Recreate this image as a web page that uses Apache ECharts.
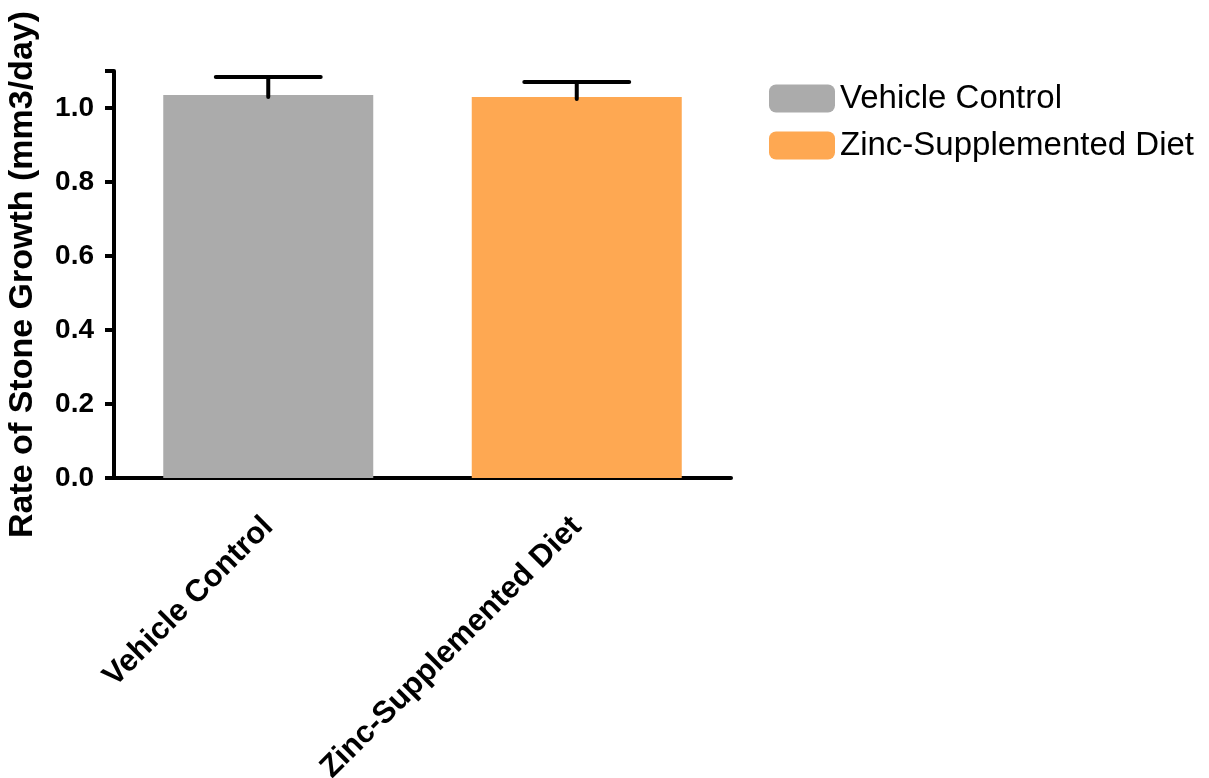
<!DOCTYPE html>
<html>
<head>
<meta charset="utf-8">
<title>Rate of Stone Growth</title>
<script src="https://cdn.jsdelivr.net/npm/echarts@6/dist/echarts.min.js"></script>
<style>
  html, body { margin: 0; padding: 0; background: #ffffff; }
  #chart { width: 1209px; height: 778px; }
</style>
</head>
<body>
<div id="chart"></div>
<script>
// Group names, mean growth rates and their upper error (SEM)
const groups = ['Vehicle Control', 'Zinc-Supplemented Diet'];
const means = [1.035, 1.030];
const errors = [0.049, 0.040];
const groupColors = ['#ABABAB', '#FEA852'];
const yTicks = [0, 0.2, 0.4, 0.6, 0.8, 1.0];

const FONT = '"Liberation Sans", Arial, Helvetica, sans-serif';
const chart = echarts.init(document.getElementById('chart'), null, { renderer: 'canvas' });

// One bar series per group so the legend can show each colour
const barSeries = groups.map((name, i) => ({
  name: name,
  type: 'bar',
  barWidth: 210,
  barGap: '-100%',
  itemStyle: { color: groupColors[i] },
  data: groups.map((g, j) => (j === i ? means[j] : '-')),
  z: 2
}));

// Upper error whiskers drawn on the category axis
const errorSeries = {
  type: 'custom',
  name: 'error',
  data: groups.map((g, i) => [i, means[i], errors[i]]),
  encode: { x: 0, y: 1 },
  z: 5,
  renderItem: function (params, api) {
    const idx = api.value(0);
    const base = api.coord([idx, api.value(1)]);
    const top = api.coord([idx, api.value(1) + api.value(2)]);
    const halfCap = api.size([1, 0])[0] * 0.17;
    const style = { stroke: '#000', lineWidth: 4, lineCap: 'round' };
    return {
      type: 'group',
      children: [
        { type: 'line', shape: { x1: base[0], y1: base[1] + 2, x2: top[0], y2: top[1] }, style: style },
        { type: 'line', shape: { x1: top[0] - halfCap, y1: top[1], x2: top[0] + halfCap, y2: top[1] }, style: style }
      ]
    };
  }
};

chart.setOption({
  animation: false,
  backgroundColor: '#ffffff',
  textStyle: { fontFamily: FONT },
  legend: {
    orient: 'vertical',
    left: 764,
    top: 77,
    itemWidth: 66,
    itemHeight: 28,
    itemGap: 14,
    data: groups,
    textStyle: { fontFamily: FONT, fontSize: 33, color: '#000', padding: [0, 0, 0, 0] }
  },
  grid: {
    left: 114, right: 478, top: 71, bottom: 300,
    containLabel: false,
    outerBoundsMode: 'none'
  },
  xAxis: {
    type: 'category',
    data: groups,
    axisLine: { lineStyle: { color: '#000', width: 4 } },
    axisTick: { alignWithLabel: true, length: 11, lineStyle: { color: '#000', width: 4 } },
    axisLabel: {
      rotate: 45,
      margin: 44,
      interval: 0,
      fontFamily: FONT,
      fontSize: 31,
      fontWeight: 'bold',
      color: '#000'
    }
  },
  yAxis: {
    type: 'value',
    min: 0,
    max: 1.1,
    interval: 0.2,
    name: 'Rate of Stone Growth (mm3/day)',
    nameLocation: 'middle',
    nameGap: 74,
    nameTextStyle: { fontFamily: FONT, fontSize: 34, fontWeight: 'bold', color: '#000' },
    axisLine: { show: true, lineStyle: { color: '#000', width: 4 } },
    axisTick: { show: true, length: 9, lineStyle: { color: '#000', width: 4 } },
    splitLine: { show: false },
    axisLabel: {
      margin: 20,
      fontFamily: FONT,
      fontSize: 28,
      fontWeight: 'bold',
      color: '#000',
      formatter: function (v) {
        const hit = yTicks.find(t => Math.abs(t - v) < 1e-9);
        return hit === undefined ? '' : hit.toFixed(1);
      }
    }
  },
  series: barSeries.concat([errorSeries])
});
</script>
</body>
</html>
